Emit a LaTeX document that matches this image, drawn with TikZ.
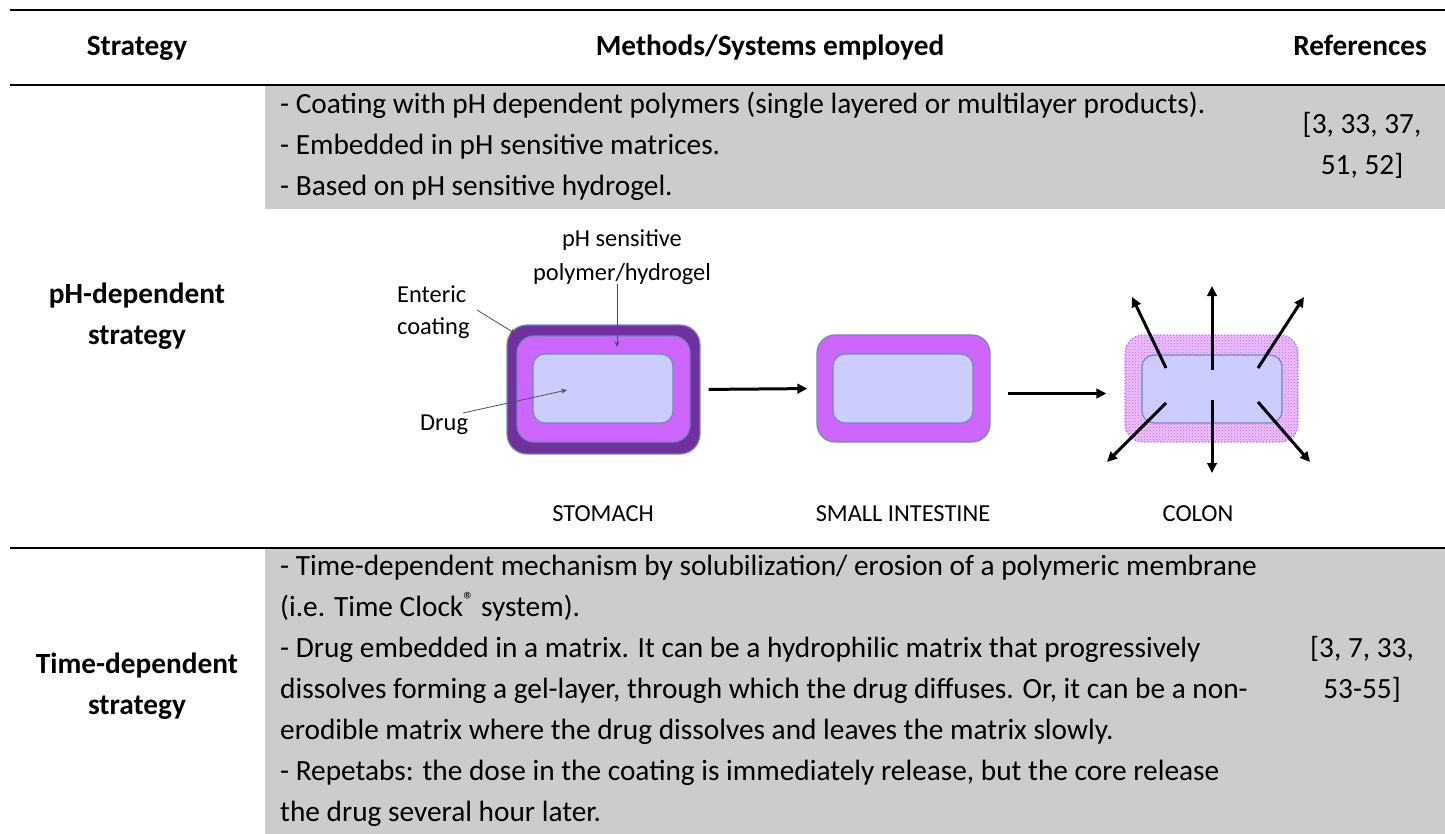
\documentclass[tikz,border=0pt]{standalone}
\usepackage{fontspec}
\setmainfont{Carlito}
\usetikzlibrary{arrows.meta,patterns,calc}
\definecolor{cellgray}{HTML}{CCCCCC}
\definecolor{darkpurple}{HTML}{7030A0}
\definecolor{magentab}{HTML}{CC66FF}
\definecolor{lavender}{HTML}{CCCCFF}
\definecolor{edgeblue}{HTML}{6E8CB5}
\definecolor{leadgray}{HTML}{505050}
\definecolor{lightmag}{HTML}{ECC2FF}
\definecolor{dotmag}{HTML}{C45CF5}
\begin{document}
\begin{tikzpicture}[x=1pt,y=-1pt,
  rulec/.style={line width=2.5pt, draw=black},
  body/.style={font=\fontsize{29.33}{41}\selectfont, inner sep=0pt, anchor=base west},
  refs/.style={font=\fontsize{29.33}{41}\selectfont, inner sep=0pt, anchor=base},
  hdr/.style={font=\fontsize{29.33}{41}\selectfont\bfseries, inner sep=0pt, anchor=base},
  lbl/.style={font=\fontsize{24.4}{30}\selectfont, inner sep=0pt},
  pill/.style={rectangle, inner sep=0pt, draw=edgeblue, line width=1.2pt},
  bigarrow/.style={line width=3pt, -{Triangle[length=10pt,width=9.5pt]}},
  leader/.style={line width=0.8pt, draw=leadgray, -{Stealth[length=6pt,width=5pt]}},
]
\useasboundingbox (0,0) rectangle (1445,834);
% gray cells
\fill[cellgray] (265,85) rectangle (1445,209);
\fill[cellgray] (265,548) rectangle (1445,834);
% rules
\draw[rulec] (10,10) -- (1445,10);
\draw[rulec] (10,85) -- (1445,85);
\draw[rulec] (10,548) -- (1445,548);
% header
\node[hdr] (hS) at (137,56) {Strategy};
\node[hdr] (hM) at (770,56) {Methods/Systems employed};
\node[hdr] (hR) at (1360,56) {References};
% top row text
\node[body] (t1) at (280,114) {- Coating with pH dependent polymers (single layered or multilayer products).};
\node[body] (t2) at (280,155) {- Embedded in pH sensitive matrices.};
\node[body] (t3) at (280,196) {- Based on pH sensitive hydrogel.};
\node[refs] (r1) at (1362,134) {[3, 33, 37,};
\node[refs] (r2) at (1362,175) {51, 52]};
% left labels
\node[hdr] (l1) at (137,303) {pH-dependent};
\node[hdr] (l2) at (137,344) {strategy};
\node[hdr] (l3) at (137,673) {Time-dependent};
\node[hdr] (l4) at (137,714) {strategy};
% bottom row text
\node[body] (b1) at (280,575) {- Time-dependent mechanism by solubilization/ erosion of a polymeric membrane};
\node[body] (b2) at (280,616) {(i.e. Time Clock{\fontsize{22}{22}\selectfont\raisebox{9pt}{®}} system).};
\node[body] (b3) at (280,657) {- Drug embedded in a matrix. It can be a hydrophilic matrix that progressively};
\node[body] (b4) at (280,698) {dissolves forming a gel-layer, through which the drug diffuses. Or, it can be a non-};
\node[body] (b5) at (280,739) {erodible matrix where the drug dissolves and leaves the matrix slowly.};
\node[body] (b6) at (280,780) {- Repetabs: the dose in the coating is immediately release, but the core release};
\node[body] (b7) at (280,821) {the drug several hour later.};
\node[refs] (r3) at (1362,657) {[3, 7, 33,};
\node[refs] (r4) at (1362,698) {53-55]};
% stomach
\node[pill, fill=darkpurple, rounded corners=20pt, minimum width=193pt, minimum height=129pt] (so) at (603.5,389.5) {};
\node[pill, fill=magentab, rounded corners=17pt, minimum width=173pt, minimum height=106pt] (sm) at (603.5,389) {};
\node[pill, fill=lavender, rounded corners=12pt, minimum width=140pt, minimum height=69pt] (si) at (603,388.5) {};
% small intestine
\node[pill, fill=magentab, rounded corners=18pt, minimum width=173pt, minimum height=107pt] (im) at (903.5,388.5) {};
\node[pill, fill=lavender, rounded corners=12pt, minimum width=140pt, minimum height=69pt] (ii) at (903,388.5) {};
% colon
\node[rectangle, inner sep=0pt, draw=dotmag, dotted, line width=1.2pt, rounded corners=18pt, minimum width=173pt, minimum height=107pt, preaction={fill=lightmag}, pattern=crosshatch dots, pattern color=dotmag] (cm) at (1211.5,388.5) {};
\node[pill, fill=lavender, rounded corners=12pt, minimum width=140pt, minimum height=68pt] (ci) at (1212,389) {};
% labels
\node[lbl, anchor=base] (ph1) at (622,247) {pH sensitive};
\node[lbl, anchor=base] (ph2) at (622,280) {polymer/hydrogel};
\node[lbl, anchor=base west] (en1) at (397,302) {Enteric};
\node[lbl, anchor=base west] (en2) at (397,334) {coating};
\node[lbl, anchor=base west] (dr) at (420,430) {Drug};
\node[lbl, anchor=base] (sto) at (603,521) {STOMACH};
\node[lbl, anchor=base] (sil) at (903,521) {SMALL INTESTINE};
\node[lbl, anchor=base] (col) at (1198,521) {COLON};
% leader lines
\coordinate (phB) at (617,347);
\coordinate (enA) at (477,310);
\coordinate (enB) at (516,334);
\coordinate (drA) at (463,413);
\coordinate (drB) at (567,390);
\draw[leader] (ph2.south -| phB) -- (phB);
\draw[leader] (enA) -- (enB);
\draw[leader] (drA) -- (drB);
% main arrows
\draw[bigarrow, shorten <=8pt, shorten >=9pt] (so.east) -- (im.west);
\draw[bigarrow, shorten <=17pt, shorten >=18pt] ([yshift=-5pt]im.east) -- ([yshift=-5pt]cm.west);
% colon release arrows
\coordinate (u0) at (1212,370); \coordinate (u1) at (1212,286);
\coordinate (ul0) at (1166,368); \coordinate (ul1) at (1132,297);
\coordinate (ur0) at (1258,368); \coordinate (ur1) at (1304,297);
\coordinate (dl0) at (1166,403); \coordinate (dl1) at (1107,462);
\coordinate (d0) at (1212,400); \coordinate (d1) at (1212,473);
\coordinate (dr0) at (1258,402); \coordinate (dr1) at (1310,462);
\foreach \a in {u,ul,ur,dl,d,dr}{\draw[bigarrow] (\a0) -- (\a1);}
\end{tikzpicture}
\end{document}
